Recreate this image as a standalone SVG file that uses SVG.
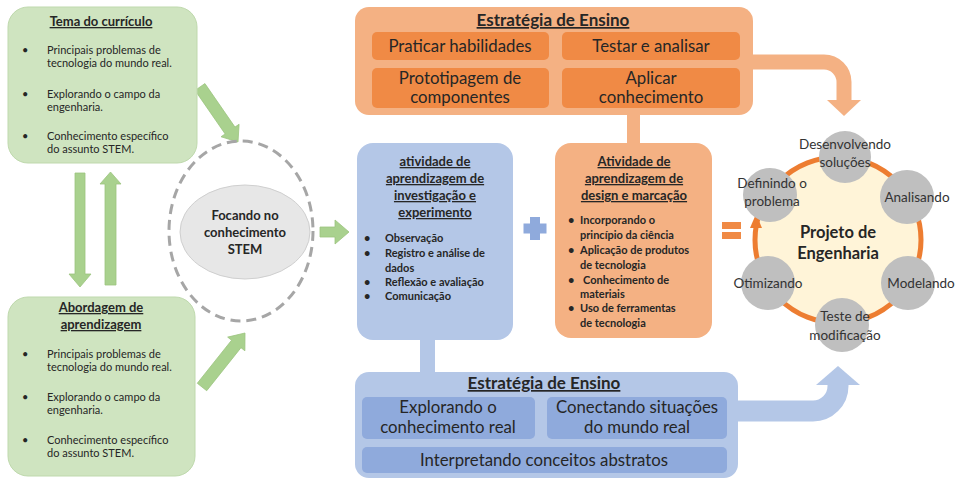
<svg xmlns="http://www.w3.org/2000/svg" width="960" height="480" viewBox="0 0 960 480">
<style>
text{font-family:Lato,"Open Sans","Liberation Sans",sans-serif;fill:#262626}
.gbox{fill:#cfe4c0;stroke:#bfd9ad;stroke-width:1}
.gt{font-size:13px;font-weight:bold;text-anchor:middle;text-decoration:underline}
.gb{font-size:11px}
.ga{fill:#a9d18e;stroke:#9cc47f;stroke-width:0.8}
.obox{fill:#f4b183}
.oin{fill:#f08a45}
.bbox{fill:#b4c7e7}
.bin{fill:#8faadc}
.big{font-size:16.8px;text-anchor:middle}
.ttl{font-size:17px;font-weight:bold;text-anchor:middle;text-decoration:underline}
.mt{font-size:13px;font-weight:bold;text-anchor:middle;text-decoration:underline}
.mb{font-size:11px;font-weight:bold}
.sc{fill:#bfbfbf}
.st{font-size:13.5px;text-anchor:middle;fill:#333}
</style>

<g id="connectors">
  <polygon class="ga" points="75,173 85,173 85,274 91,274 80,287 69,274 75,274"/>
  <polygon class="ga" points="110.5,172 121,184 116,184 116,285 105,285 105,184 100,184"/>
  <polygon class="ga" points="195.07,90.41 225.12,133.91 221.01,136.75 238,142 239.09,124.25 234.98,127.09 204.93,83.59"/>
  <polygon class="ga" points="206.70,390.74 240.98,347.70 244.89,350.81 245,333 227.67,337.11 231.58,340.22 197.30,383.26"/>
  <polygon class="ga" points="320,227 335,227 335,220 349,232 335,244 335,237 320,237"/>
  <rect x="627" y="110" width="13" height="38" fill="#f4b183"/>
  <rect x="420" y="335" width="15" height="42" fill="#b4c7e7"/>
  <path d="M750 62 H824 A20 20 0 0 1 844 82 V101" fill="none" stroke="#f4b183" stroke-width="15"/>
  <polygon points="827,100 861,100 844,116" fill="#f4b183"/>
  <path d="M736 411 H813 A25 25 0 0 0 838 386 V383" fill="none" stroke="#b4c7e7" stroke-width="21"/>
  <polygon points="816,385 860,385 838,366" fill="#b4c7e7"/>
  <g id="plus" fill="#8faadc"><rect x="530" y="217" width="10" height="23"/><rect x="523.5" y="223.5" width="23" height="10"/></g>
  <g id="equals" fill="#f08a45"><rect x="722" y="222" width="19" height="7"/><rect x="722" y="232" width="19" height="7"/></g>
</g>

<g id="tema">
  <rect class="gbox" x="8" y="7" width="189" height="156" rx="20"/>
  <text class="gt" x="101" y="26">Tema do currículo</text>
  <text class="gb" x="22" y="54">•</text><text class="gb" x="47" y="54">Principais problemas de</text>
  <text class="gb" x="47" y="67">tecnologia do mundo real.</text>
  <text class="gb" x="22" y="98">•</text><text class="gb" x="47" y="98">Explorando o campo da</text>
  <text class="gb" x="47" y="111">engenharia.</text>
  <text class="gb" x="22" y="140">•</text><text class="gb" x="47" y="140">Conhecimento específico</text>
  <text class="gb" x="47" y="153">do assunto STEM.</text>
</g>

<g id="abordagem">
  <rect class="gbox" x="8" y="297" width="187" height="179" rx="20"/>
  <text class="gt" x="101" y="312">Abordagem de</text>
  <text class="gt" x="101" y="329">aprendizagem</text>
  <text class="gb" x="22" y="358">•</text><text class="gb" x="47" y="358">Principais problemas de</text>
  <text class="gb" x="47" y="371">tecnologia do mundo real.</text>
  <text class="gb" x="22" y="401">•</text><text class="gb" x="47" y="401">Explorando o campo da</text>
  <text class="gb" x="47" y="414">engenharia.</text>
  <text class="gb" x="22" y="444">•</text><text class="gb" x="47" y="444">Conhecimento específico</text>
  <text class="gb" x="47" y="457">do assunto STEM.</text>
</g>

<g id="focando">
  <ellipse cx="241" cy="231" rx="72" ry="90" fill="none" stroke="#a6a6a6" stroke-width="3" stroke-dasharray="10,6"/>
  <ellipse cx="245" cy="232" rx="65" ry="47" fill="#e7e7e7" stroke="#cfcfcf" stroke-width="1"/>
  <text x="245" y="220" font-size="13" font-weight="bold" text-anchor="middle">Focando no</text>
  <text x="245" y="237" font-size="13" font-weight="bold" text-anchor="middle">conhecimento</text>
  <text x="245" y="254" font-size="13" font-weight="bold" text-anchor="middle">STEM</text>
</g>

<g id="estrategia-top">
  <rect class="obox" x="355" y="7" width="398" height="108" rx="14"/>
  <text class="ttl" x="553" y="26">Estratégia de Ensino</text>
  <rect class="oin" x="372" y="32" width="177" height="28" rx="5"/>
  <text class="big" x="460" y="52">Praticar habilidades</text>
  <rect class="oin" x="562" y="32" width="178" height="28" rx="5"/>
  <text class="big" x="651" y="52">Testar e analisar</text>
  <rect class="oin" x="372" y="68" width="177" height="40" rx="5"/>
  <text class="big" x="460" y="84">Prototipagem de</text>
  <text class="big" x="460" y="103">componentes</text>
  <rect class="oin" x="562" y="68" width="178" height="40" rx="5"/>
  <text class="big" x="651" y="84">Aplicar</text>
  <text class="big" x="651" y="103">conhecimento</text>
</g>

<g id="investigacao">
  <rect class="bbox" x="357" y="143" width="156" height="197" rx="16"/>
  <text class="mt" x="435" y="166">atividade de</text>
  <text class="mt" x="435" y="183">aprendizagem de</text>
  <text class="mt" x="435" y="200">investigação e</text>
  <text class="mt" x="435" y="217">experimento</text>
  <text class="mb" x="364" y="242">•</text><text class="mb" x="385" y="242">Observação</text>
  <text class="mb" x="364" y="257">•</text><text class="mb" x="385" y="257">Registro e análise de</text>
  <text class="mb" x="385" y="272">dados</text>
  <text class="mb" x="364" y="286">•</text><text class="mb" x="385" y="286">Reflexão e avaliação</text>
  <text class="mb" x="364" y="300">•</text><text class="mb" x="385" y="300">Comunicação</text>
</g>

<g id="design">
  <rect class="obox" x="555" y="143" width="157" height="195" rx="16"/>
  <text class="mt" x="634" y="166">Atividade de</text>
  <text class="mt" x="634" y="183">aprendizagem de</text>
  <text class="mt" x="634" y="200">design e marcação</text>
  <text class="mb" x="568" y="224">•</text><text class="mb" x="580" y="224">Incorporando o</text>
  <text class="mb" x="580" y="239">princípio da ciência</text>
  <text class="mb" x="568" y="254">•</text><text class="mb" x="580" y="254">Aplicação de produtos</text>
  <text class="mb" x="580" y="269">de tecnologia</text>
  <text class="mb" x="568" y="284">•</text><text class="mb" x="583" y="284">Conhecimento de</text>
  <text class="mb" x="580" y="298">materiais</text>
  <text class="mb" x="568" y="312">•</text><text class="mb" x="580" y="312">Uso de ferramentas</text>
  <text class="mb" x="580" y="327">de tecnologia</text>
</g>

<g id="estrategia-bottom">
  <rect class="bbox" x="355" y="372" width="383" height="106" rx="14"/>
  <text class="ttl" x="544" y="389">Estratégia de Ensino</text>
  <rect class="bin" x="362" y="397" width="173" height="42" rx="5"/>
  <text class="big" x="448" y="413">Explorando o</text>
  <text class="big" x="448" y="433">conhecimento real</text>
  <rect class="bin" x="547" y="397" width="180" height="42" rx="5"/>
  <text class="big" x="637" y="413">Conectando situações</text>
  <text class="big" x="637" y="433">do mundo real</text>
  <rect class="bin" x="362" y="447" width="365" height="26" rx="5"/>
  <text class="big" x="544" y="466">Interpretando conceitos abstratos</text>
</g>

<g id="projeto">
  <circle cx="838" cy="240" r="83" fill="#fff4d8" stroke="#ed7d31" stroke-width="5"/>
  <polygon points="750,228 762,228 756,214" fill="#ed7d31"/>
  <text x="838" y="238" font-size="16.5" font-weight="bold" text-anchor="middle">Projeto de</text>
  <text x="838" y="259" font-size="16.5" font-weight="bold" text-anchor="middle">Engenharia</text>
</g>
<g id="desenvolvendo"><circle class="sc" cx="845" cy="157" r="26"/><text class="st" x="845" y="149">Desenvolvendo</text><text class="st" x="845" y="167">soluções</text></g>
<g id="definindo"><circle class="sc" cx="770" cy="195" r="27"/><text class="st" x="772" y="188">Definindo o</text><text class="st" x="772" y="206">problema</text></g>
<g id="analisando"><circle class="sc" cx="907" cy="197" r="27"/><text class="st" x="917" y="202">Analisando</text></g>
<g id="modelando"><circle class="sc" cx="908" cy="283" r="27"/><text class="st" x="921" y="288">Modelando</text></g>
<g id="teste"><circle class="sc" cx="842" cy="325" r="27"/><text class="st" x="845" y="321">Teste de</text><text class="st" x="845" y="340">modificação</text></g>
<g id="otimizando"><circle class="sc" cx="768" cy="283" r="27"/><text class="st" x="768" y="288">Otimizando</text></g>
</svg>
